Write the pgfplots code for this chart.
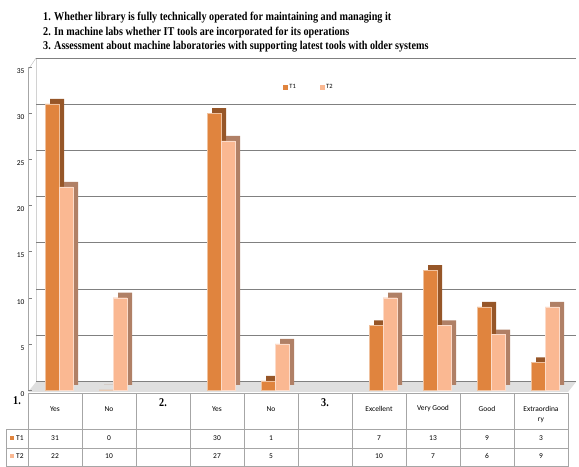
\documentclass[border=0pt]{standalone}
\usepackage{pgfplots}
\pgfplotsset{compat=1.18}
\usepackage{pgfplotstable}
\usepackage{fontspec}
\setmainfont{Carlito}
\newfontfamily\titlefont[FakeStretch=0.85]{Liberation Serif}
\definecolor{cA}{RGB}{224,132,62}
\definecolor{cAb}{RGB}{150,86,40}
\definecolor{cB}{RGB}{250,184,146}
\definecolor{cBb}{RGB}{176,128,102}
\pgfplotstableread{
x t1 t2
0 31 22
1 0 10
3 30 27
4 1 5
6 7 10
7 13 7
8 9 6
9 3 9
}\datatable
\begin{document}
\begin{tikzpicture}[x=1bp,y=1bp]
\useasboundingbox (0,0) rectangle (579,467);
% floor and back wall edge
\fill[gray!25] (28,75) -- (568,75) -- (576,85) -- (36,85) -- cycle;
\draw[gray!35] (36,85) -- (36,409);
\draw[gray!60] (28,397) -- (36,409);
\begin{axis}[at={(28bp,77bp)}, anchor=south west, scale only axis,
  width=540bp, height=323bp,
  xmin=-0.5, xmax=9.5, ymin=0, ymax=35, ytick={0,5,...,35},
  ybar, bar width=14bp,
  axis x line=none, axis y line*=left, y axis line style={gray!70,-},
  ymajorgrids, grid style={draw=gray, xshift=8bp, yshift=9bp},
  major tick length=4bp, tick style={gray},
  yticklabel style={font=\fontsize{7.5}{9}\selectfont, yshift=-4bp},
  /pgf/number format/assume math mode=true,
  legend style={at={(rel axis cs:0.52,0.938)}, anchor=center, draw=none, fill=none,
    legend columns=2, font=\fontsize{6.5}{8}\selectfont,
    /tikz/every even column/.append style={column sep=22bp}},
  clip=false]
\addplot[fill=cAb, draw=none, bar shift=-3bp, xshift=5bp, yshift=5bp, forget plot]
  table[x=x,y=t1]{\datatable};
\addplot[fill=cA, draw=cA!50!white, line width=0.4bp, bar shift=-3bp,
  legend image code/.code={\fill[cA] (0bp,-2bp) rectangle (4bp,2bp);}]
  table[x=x,y=t1]{\datatable};
\addlegendentry{T1}
\addplot[fill=cBb, draw=none, bar shift=11bp, xshift=5bp, yshift=5bp, forget plot]
  table[x=x,y=t2]{\datatable};
\addplot[fill=cB, draw=cB!50!white, line width=0.4bp, bar shift=11bp,
  legend image code/.code={\fill[cB] (0bp,-2bp) rectangle (4bp,2bp);}]
  table[x=x,y=t2]{\datatable};
\addlegendentry{T2}
\end{axis}
% title
\node[anchor=north west, align=left, inner sep=0,
  font=\titlefont\bfseries\fontsize{12}{14.5}\selectfont] at (43,455)
  {1. Whether library is fully technically operated for maintaining and managing it\\
   2. In machine labs whether IT tools are incorporated for its operations\\
   3. Assessment about machine laboratories with supporting latest tools with older systems};
% data table
\begin{scope}[font=\fontsize{7.5}{9}\selectfont]
\draw[gray!70, line width=0.5bp] (28,74) rectangle (568,38);
\draw[gray!70, line width=0.5bp] (6,38) rectangle (568,1);
\draw[gray!70, line width=0.5bp] (6,19) -- (568,19);
\foreach \i in {0,...,10} \draw[gray!70, line width=0.5bp] ({28+54*\i},74) -- ({28+54*\i},1);
\node[font=\titlefont\bfseries\fontsize{12}{14}\selectfont] at (17,66) {1.};
\node[font=\titlefont\bfseries\fontsize{12}{14}\selectfont] at (163,64) {2.};
\node[font=\titlefont\bfseries\fontsize{12}{14}\selectfont] at (325,64) {3.};
\node at (55,58) {Yes};
\node at (109,58) {No};
\node at (217,58) {Yes};
\node at (271,58) {No};
\node at (379,58) {Excellent};
\node at (433,58) {Very Good};
\node at (487,58) {Good};
\node at (541,58) {Extraordina};
\node at (541,47) {ry};
\fill[cA] (10,27) rectangle (14,31); \node[anchor=west, inner sep=1bp] at (15,29) {T1};
\fill[cB] (10,9) rectangle (14,13); \node[anchor=west, inner sep=1bp] at (15,11) {T2};
\node at (55,29) {31}; \node at (109,29) {0}; \node at (217,29) {30}; \node at (271,29) {1};
\node at (379,29) {7}; \node at (433,29) {13}; \node at (487,29) {9}; \node at (541,29) {3};
\node at (55,11) {22}; \node at (109,11) {10}; \node at (217,11) {27}; \node at (271,11) {5};
\node at (379,11) {10}; \node at (433,11) {7}; \node at (487,11) {6}; \node at (541,11) {9};
\end{scope}
\end{tikzpicture}
\end{document}
